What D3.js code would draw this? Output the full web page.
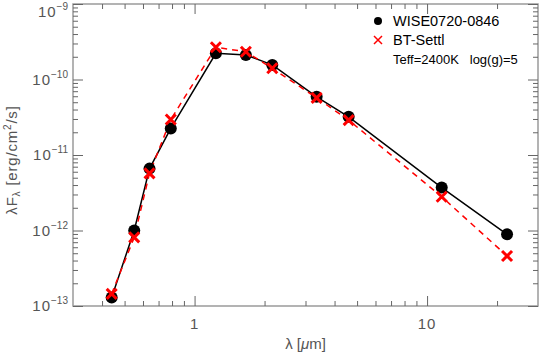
<!DOCTYPE html>
<html>
<head>
<meta charset="utf-8">
<script src="https://cdn.jsdelivr.net/npm/d3@7"></script>
<style>
  html, body { margin: 0; padding: 0; background: #fff; }
  svg { display: block; font-family: "Liberation Sans", Arial, sans-serif; }
</style>
</head>
<body>
<svg id="chart" width="539" height="353"></svg>
<script>
// --- data ---
const wavelengths = [0.44, 0.55, 0.64, 0.79, 1.235, 1.662, 2.159, 3.35, 4.6, 11.56, 22.08];
const fluxObs    = [1.3e-13, 1.0e-12, 6.6e-12, 2.25e-11, 2.22e-10, 2.11e-10, 1.56e-10, 5.9e-11, 3.2e-11, 3.7e-12, 8.9e-13];
const fluxModel  = [1.45e-13, 8.1e-13, 5.7e-12, 2.95e-11, 2.67e-10, 2.33e-10, 1.41e-10, 5.7e-11, 2.9e-11, 2.8e-12, 4.6e-13];

const xMajor = [1, 10];
const xMinor = [0.4, 0.5, 0.6, 0.7, 0.8, 0.9, 2, 3, 4, 5, 6, 7, 8, 9, 20];
const yMajor = [1e-13, 1e-12, 1e-11, 1e-10, 1e-9];
const yMajorExp = ["-13", "-12", "-11", "-10", "-9"];
const yMinor = [];
[-13, -12, -11, -10].forEach(e => { for (let m = 2; m <= 9; m++) yMinor.push(m * Math.pow(10, e)); });

const legendNames = ["WISE0720-0846", "BT-Settl"];
const legendNote = "Teff=2400K   log(g)=5";

const svg = d3.select("#chart");
const L = 73, R = 538, T = 4, B = 306;
const x = d3.scaleLog().domain([0.3, 30]).range([L, R]);
const y = d3.scaleLog().domain([1e-13, 1e-9]).range([B, T]);

const axisCol = "#9a9a9a", tickCol = "#666", textCol = "#555";

// frame
svg.append("rect").attr("x", L).attr("y", T).attr("width", R - L).attr("height", B - T)
  .attr("fill", "none").attr("stroke", axisCol).attr("stroke-width", 1.5);

function ticks(axis, tr) {
  const g = svg.append("g").attr("transform", tr).call(axis);
  g.select(".domain").remove();
  g.selectAll(".tick line").attr("stroke", tickCol).attr("stroke-width", 1);
  g.selectAll(".tick text").remove();
  return g;
}
// x ticks bottom/top
ticks(d3.axisBottom(x).tickValues(xMajor).tickSize(-10), `translate(0,${B})`);
ticks(d3.axisBottom(x).tickValues(xMinor).tickSize(-5), `translate(0,${B})`);
ticks(d3.axisTop(x).tickValues(xMajor).tickSize(-10), `translate(0,${T})`);
ticks(d3.axisTop(x).tickValues(xMinor).tickSize(-5), `translate(0,${T})`);
// y ticks left/right
ticks(d3.axisLeft(y).tickValues(yMajor).tickSize(-10), `translate(${L},0)`);
ticks(d3.axisLeft(y).tickValues(yMinor).tickSize(-5), `translate(${L},0)`);
ticks(d3.axisRight(y).tickValues(yMajor).tickSize(-10), `translate(${R},0)`);
ticks(d3.axisRight(y).tickValues(yMinor).tickSize(-5), `translate(${R},0)`);

// x tick labels
svg.selectAll(".xlab").data(xMajor).join("text")
  .attr("x", d => x(d)).attr("y", B + 23)
  .attr("text-anchor", "middle").attr("font-size", 15).attr("letter-spacing", 1)
  .attr("fill", textCol).text(d => d);

// y tick labels with superscript exponent (top one kept inside the page)
yMajor.forEach((v, i) => {
  const t = svg.append("text")
    .attr("x", 68).attr("y", Math.max(y(v) + 5, 17))
    .attr("text-anchor", "end").attr("fill", textCol).attr("font-size", 15);
  t.append("tspan").attr("letter-spacing", 1).text("10");
  t.append("tspan").attr("font-size", 10).attr("dy", -7).text(yMajorExp[i].replace("-", "\u2212"));
});

// axis titles
const xt = svg.append("text").attr("x", (L + R) / 2).attr("y", 349)
  .attr("text-anchor", "middle").attr("fill", textCol).attr("font-size", 15);
xt.append("tspan").text("\u03bb [");
xt.append("tspan").attr("font-style", "italic").text("\u03bc");
xt.append("tspan").text("m]");

const yt = svg.append("text").attr("transform", `translate(17,${(T + B) / 2 + 5}) rotate(-90)`)
  .attr("text-anchor", "middle").attr("fill", textCol).attr("font-size", 15).attr("letter-spacing", 0.8);
yt.append("tspan").text("\u03bbF");
yt.append("tspan").attr("font-size", 10).attr("dy", 3).text("\u03bb");
yt.append("tspan").attr("dy", -3).text(" [erg/cm");
yt.append("tspan").attr("font-size", 10).attr("dy", -6).text("2");
yt.append("tspan").attr("dy", 6).text("/s]");

// series
const obs = wavelengths.map((w, i) => [w, fluxObs[i]]);
const mod = wavelengths.map((w, i) => [w, fluxModel[i]]);
const line = d3.line().x(d => x(d[0])).y(d => y(d[1]));

svg.append("path").datum(obs).attr("d", line).attr("fill", "none")
  .attr("stroke", "#000").attr("stroke-width", 1.5);
svg.append("path").datum(mod).attr("d", line).attr("fill", "none")
  .attr("stroke", "#ff0000").attr("stroke-width", 1.5).attr("stroke-dasharray", "6,5");

svg.selectAll(".obs").data(obs).join("circle")
  .attr("cx", d => x(d[0])).attr("cy", d => y(d[1])).attr("r", 6).attr("fill", "#000");

const xs = 5;
svg.selectAll(".mod").data(mod).join("path")
  .attr("d", d => {
    const cx = x(d[0]), cy = y(d[1]);
    return `M${cx - xs},${cy - xs}L${cx + xs},${cy + xs}M${cx - xs},${cy + xs}L${cx + xs},${cy - xs}`;
  })
  .attr("stroke", "#ff0000").attr("stroke-width", 3).attr("fill", "none");

// legend
const lg = svg.append("g");
lg.append("circle").attr("cx", 378).attr("cy", 21).attr("r", 4).attr("fill", "#000");
lg.append("text").attr("x", 393).attr("y", 26).attr("font-size", 14.5).attr("fill", "#000").text(legendNames[0]);
lg.append("path").attr("d", "M374,36L382,44M374,44L382,36").attr("stroke", "#ff0000").attr("stroke-width", 1.5);
lg.append("text").attr("x", 393).attr("y", 45).attr("font-size", 14.5).attr("fill", "#000").text(legendNames[1]);
lg.append("text").attr("x", 393).attr("y", 64).attr("font-size", 13).attr("fill", "#000")
  .style("white-space", "pre").text(legendNote);
</script>
</body>
</html>
